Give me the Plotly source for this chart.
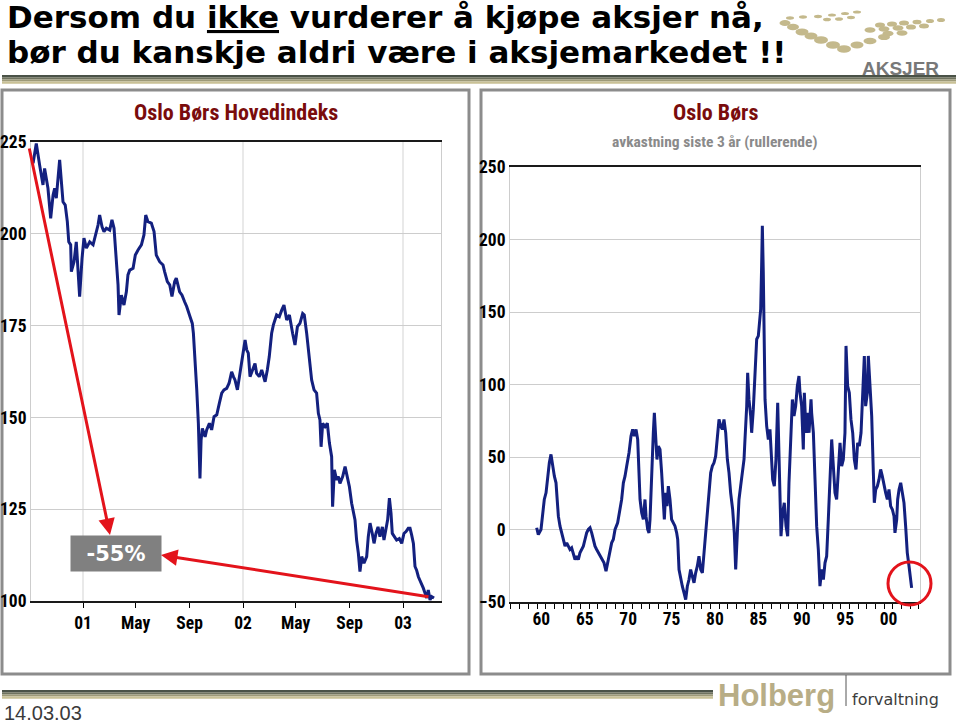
import plotly.graph_objects as go

W, H = 959, 723


def px(x):
    return x / W


def py(y):
    return 1 - y / H


# ---------------- data: Oslo Børs Hovedindeks (left chart) ----------------
left_x = [
    2000.688, 2000.708, 2000.729, 2000.750, 2000.760, 2000.771, 2000.781, 2000.798, 2000.813, 2000.823,
    2000.833, 2000.854, 2000.864, 2000.875, 2000.889, 2000.902, 2000.911, 2000.923, 2000.927, 2000.944,
    2000.958, 2000.969, 2000.979, 2000.994, 2001.006, 2001.021, 2001.042, 2001.063, 2001.073, 2001.094,
    2001.104, 2001.119, 2001.131, 2001.146, 2001.167, 2001.181, 2001.194, 2001.202, 2001.211, 2001.219,
    2001.225, 2001.240, 2001.256, 2001.271, 2001.281, 2001.292, 2001.313, 2001.327, 2001.344, 2001.365,
    2001.381, 2001.392, 2001.406, 2001.427, 2001.444, 2001.458, 2001.479, 2001.500, 2001.510, 2001.527,
    2001.542, 2001.556, 2001.573, 2001.583, 2001.604, 2001.619, 2001.635, 2001.648, 2001.669, 2001.683,
    2001.690, 2001.700, 2001.711, 2001.721, 2001.727, 2001.731, 2001.738, 2001.746, 2001.763, 2001.773,
    2001.790, 2001.804, 2001.819, 2001.836, 2001.852, 2001.867, 2001.881, 2001.898, 2001.913, 2001.929,
    2001.940, 2001.950, 2001.965, 2001.975, 2001.988, 2001.998, 2002.013, 2002.023, 2002.033, 2002.044,
    2002.061, 2002.075, 2002.085, 2002.102, 2002.117, 2002.138, 2002.152, 2002.164, 2002.179, 2002.190,
    2002.210, 2002.227, 2002.242, 2002.256, 2002.273, 2002.290, 2002.310, 2002.325, 2002.340, 2002.356,
    2002.373, 2002.383, 2002.398, 2002.415, 2002.429, 2002.444, 2002.460, 2002.471, 2002.481, 2002.488,
    2002.498, 2002.513, 2002.527, 2002.540, 2002.554, 2002.560, 2002.571, 2002.585, 2002.596, 2002.606,
    2002.623, 2002.638, 2002.648, 2002.665, 2002.679, 2002.690, 2002.700, 2002.710, 2002.721, 2002.731,
    2002.742, 2002.756, 2002.773, 2002.783, 2002.794, 2002.808, 2002.819, 2002.831, 2002.844, 2002.856,
    2002.871, 2002.881, 2002.894, 2002.904, 2002.915, 2002.925, 2002.933, 2002.946, 2002.960, 2002.977,
    2002.992, 2003.006, 2003.019, 2003.033, 2003.044, 2003.054, 2003.065, 2003.075, 2003.085, 2003.096,
    2003.106, 2003.117, 2003.127, 2003.138, 2003.148, 2003.158, 2003.169, 2003.179, 2003.194,
]
left_y = [
    219.2, 224.6, 218.7, 213.3, 217.8, 215.1, 212.4, 204.2, 210.6, 212.4,
    209.7, 220.1, 215.1, 208.7, 207.8, 203.3, 197.8, 197.0, 189.7, 192.4,
    197.8, 190.6, 182.9, 193.3, 198.8, 196.1, 197.8, 197.0, 198.8, 202.4,
    205.1, 201.9, 200.6, 201.5, 201.0, 203.8, 201.5, 197.0, 190.6, 186.1,
    177.9, 183.3, 180.6, 184.2, 188.8, 190.1, 190.6, 194.2, 195.6, 197.0,
    199.7, 205.1, 203.3, 202.9, 200.6, 194.2, 192.4, 191.5, 189.7, 187.0,
    186.1, 182.9, 187.0, 187.9, 184.2, 183.3, 181.5, 180.2, 177.4, 175.6,
    172.9, 166.5, 157.5, 148.4, 139.3, 133.4, 143.8, 147.0, 144.7, 146.6,
    148.4, 146.6, 150.2, 150.7, 153.8, 156.6, 157.5, 157.9, 159.3, 162.4,
    161.1, 160.2, 157.5, 160.6, 163.8, 167.5, 171.1, 168.4, 167.5, 161.1,
    162.9, 164.7, 162.0, 161.1, 162.9, 159.7, 162.9, 166.5, 172.9, 175.2,
    177.9, 177.4, 179.2, 180.6, 176.5, 177.9, 172.9, 169.7, 174.7, 175.6,
    178.3, 177.9, 172.9, 166.5, 160.2, 157.5, 156.6, 151.1, 149.3, 142.0,
    148.4, 147.5, 148.4, 143.0, 139.3, 125.7, 135.7, 133.0, 133.9, 132.0,
    133.9, 136.6, 134.8, 131.1, 126.6, 123.9, 122.1, 116.6, 113.0, 108.0,
    112.1, 110.3, 112.1, 117.5, 121.2, 118.4, 115.7, 118.4, 120.2, 117.5,
    120.2, 116.6, 119.3, 122.1, 128.0, 123.9, 118.4, 117.5, 116.6, 117.0,
    115.7, 118.4, 118.9, 119.8, 119.8, 118.0, 115.7, 109.4, 108.4, 106.6,
    105.7, 104.4, 103.5, 102.1, 100.8, 103.0, 100.3, 101.2, 100.8,
]
left_tickvals = [2001.0, 2001.329, 2001.666, 2002.0, 2002.329, 2002.666, 2003.0]
left_ticktext = ["01", "May", "Sep", "02", "May", "Sep", "03"]
left_yticks = [100, 125, 150, 175, 200, 225]
left_year_grid = [2001.0, 2002.0, 2003.0]

# ---------------- data: Oslo Børs 3-year rolling return (right chart) ----------------
right_x = [
    1959.96, 1960.15, 1960.46, 1960.65, 1960.84, 1961.04, 1961.23, 1961.42, 1961.61, 1961.80,
    1962.00, 1962.19, 1962.34, 1962.46, 1962.65, 1962.84, 1963.03, 1963.23, 1963.42, 1963.61,
    1963.80, 1963.99, 1964.19, 1964.38, 1964.57, 1964.76, 1964.95, 1965.15, 1965.34, 1965.53,
    1965.72, 1965.91, 1966.11, 1966.30, 1966.49, 1966.68, 1966.87, 1967.07, 1967.26, 1967.45,
    1967.72, 1967.95, 1968.14, 1968.41, 1968.60, 1968.79, 1968.99, 1969.29, 1969.49, 1969.75,
    1969.95, 1970.14, 1970.33, 1970.60, 1970.83, 1971.02, 1971.21, 1971.41, 1971.60, 1971.75,
    1971.87, 1972.06, 1972.25, 1972.44, 1972.56, 1972.75, 1972.90, 1973.02, 1973.21, 1973.40,
    1973.52, 1973.67, 1973.82, 1973.98, 1974.17, 1974.36, 1974.55, 1974.67, 1974.82, 1974.98,
    1975.13, 1975.32, 1975.51, 1975.71, 1975.90, 1976.09, 1976.21, 1976.36, 1976.55, 1976.74,
    1976.94, 1977.13, 1977.32, 1977.51, 1977.70, 1977.90, 1978.09, 1978.28, 1978.47, 1978.66,
    1978.86, 1979.05, 1979.24, 1979.43, 1979.62, 1979.82, 1980.01, 1980.20, 1980.39, 1980.58,
    1980.78, 1980.97, 1981.16, 1981.35, 1981.54, 1981.74, 1981.93, 1982.12, 1982.31, 1982.54,
    1982.73, 1982.89, 1983.08, 1983.27, 1983.46, 1983.66, 1983.85, 1983.96, 1984.16, 1984.27,
    1984.42, 1984.62, 1984.73, 1984.92, 1985.12, 1985.31, 1985.50, 1985.61, 1985.77, 1985.88,
    1985.96, 1986.07, 1986.15, 1986.27, 1986.46, 1986.65, 1986.84, 1987.04, 1987.15, 1987.34,
    1987.53, 1987.73, 1987.84, 1987.96, 1988.11, 1988.30, 1988.49, 1988.69, 1988.88, 1989.03,
    1989.22, 1989.42, 1989.61, 1989.80, 1989.99, 1990.18, 1990.30, 1990.49, 1990.68, 1990.80,
    1990.99, 1991.18, 1991.34, 1991.45, 1991.57, 1991.64, 1991.84, 1992.03, 1992.22, 1992.41,
    1992.60, 1992.80, 1992.99, 1993.18, 1993.37, 1993.56, 1993.76, 1993.95, 1994.14, 1994.33,
    1994.52, 1994.72, 1994.91, 1995.10, 1995.29, 1995.48, 1995.60, 1995.79, 1995.98, 1996.17,
    1996.37, 1996.56, 1996.75, 1996.94, 1997.13, 1997.33, 1997.52, 1997.71, 1997.86, 1998.06,
    1998.17, 1998.36, 1998.56, 1998.75, 1998.86, 1999.02, 1999.21, 1999.40, 1999.59, 1999.78,
    1999.98, 2000.17, 2000.36, 2000.55, 2000.74, 2000.94, 2001.13, 2001.24, 2001.44, 2001.55,
    2001.71, 2001.90, 2002.09, 2002.28, 2002.47, 2002.66, 2002.86, 2003.01, 2003.16,
]
right_y = [
    1.2, -3.5, 0.0, 9.2, 20.7, 25.3, 36.8, 46.0, 51.8, 43.7,
    36.8, 32.2, 20.7, 9.2, 2.3, -2.3, -6.9, -11.5, -9.2, -11.5,
    -13.8, -12.7, -16.1, -20.7, -18.4, -20.7, -16.1, -13.8, -11.5, -6.9,
    -2.3, 0.0, 1.2, -2.3, -6.9, -11.5, -13.8, -16.1, -18.4, -20.7,
    -23.0, -28.8, -23.0, -16.1, -9.2, -6.9, 0.0, 4.6, 11.5, 20.7,
    32.2, 36.8, 43.7, 52.9, 64.4, 69.0, 64.4, 69.0, 62.1, 43.7,
    20.7, 11.5, 6.9, 20.7, 9.2, 0.0, -2.3, 6.9, 43.7, 66.7,
    80.5, 66.7, 48.3, 57.5, 55.2, 39.1, 20.7, 6.9, 25.3, 16.1,
    29.9, 20.7, 6.9, 4.6, 2.3, -2.3, -6.9, -27.6, -34.5, -39.1,
    -43.7, -48.3, -39.1, -34.5, -27.6, -32.2, -36.8, -29.9, -25.3, -18.4,
    -27.6, -29.9, -16.1, -6.9, 9.2, 25.3, 39.1, 43.7, 46.0, 50.6,
    66.7, 75.9, 71.3, 69.0, 75.9, 66.7, 48.3, 39.1, 25.3, 13.8,
    -2.3, -27.6, -2.3, 20.7, 29.9, 39.1, 48.3, 62.1, 85.1, 108.1,
    89.7, 78.2, 66.7, 82.8, 112.7, 131.2, 133.5, 140.4, 151.9, 181.8,
    209.4, 177.2, 135.8, 89.7, 71.3, 62.1, 69.0, 48.3, 34.5, 29.9,
    48.3, 87.4, 62.1, 20.7, -4.6, 11.5, 18.4, 2.3, -4.6, 32.2,
    66.7, 89.7, 78.2, 85.1, 98.9, 105.8, 94.3, 85.1, 55.2, 94.3,
    66.7, 80.5, 66.7, 82.8, 89.7, 80.5, 66.7, 34.5, 2.3, -13.8,
    -39.1, -27.6, -34.5, -23.0, -18.4, 6.9, 39.1, 62.1, 43.7, 25.3,
    20.7, 39.1, 59.8, 43.7, 48.3, 66.7, 126.6, 98.9, 94.3, 75.9,
    66.7, 48.3, 41.4, 59.8, 57.5, 66.7, 94.3, 119.7, 85.1, 94.3,
    119.7, 98.9, 78.2, 39.1, 18.4, 27.6, 29.9, 34.5, 41.4, 36.8,
    29.9, 25.3, 20.7, 27.6, 16.1, 13.8, 9.2, -2.3, 6.9, 20.7,
    27.6, 32.2, 25.3, 18.4, 2.3, -16.1, -25.3, -34.5, -40.3,
]
right_tickvals = [1960.5, 1965.5, 1970.5, 1975.5, 1980.5, 1985.5, 1990.5, 1995.5, 2000.5]
right_ticktext = ["60", "65", "70", "75", "80", "85", "90", "95", "00"]
right_yticks = [-50, 0, 50, 100, 150, 200, 250]

# ---------------- styles ----------------
NAVY = "#13207f"
NARROW = "Roboto Condensed, Liberation Sans Narrow, DejaVu Sans Condensed, sans-serif"
WIDE = "DejaVu Sans, Verdana, sans-serif"
ARIAL = "Liberation Sans, Arial, sans-serif"
GRID = "#cdcdcd"
tickfont = dict(family=NARROW, size=17.5, color="#000000", weight="bold")

fig = go.Figure()
fig.add_trace(go.Scatter(x=left_x, y=left_y, mode="lines", line=dict(color=NAVY, width=3),
                         xaxis="x", yaxis="y", hoverinfo="skip", showlegend=False))
fig.add_trace(go.Scatter(x=right_x, y=right_y, mode="lines", line=dict(color=NAVY, width=3),
                         xaxis="x2", yaxis="y2", hoverinfo="skip", showlegend=False))

L_DOM_X = [px(31), px(441)]
L_DOM_Y = [py(601), py(142)]
R_DOM_X = [px(510), px(920)]
R_DOM_Y = [py(602), py(167)]

fig.update_layout(
    width=W, height=H, margin=dict(l=0, r=0, t=0, b=0, autoexpand=False), autosize=False,
    paper_bgcolor="white", plot_bgcolor="white", showlegend=False,
    xaxis=dict(domain=L_DOM_X, anchor="y", range=[2000.675, 2003.2375],
               tickmode="array", tickvals=left_tickvals, ticktext=left_ticktext,
               ticks="outside", ticklen=5, tickcolor="#000", showgrid=False, zeroline=False,
               showline=True, mirror=True, linecolor="#1a1a1a", linewidth=1.5, tickfont=tickfont),
    yaxis=dict(domain=L_DOM_Y, anchor="x", range=[100, 225], tickmode="array",
               tickvals=left_yticks, showgrid=True, gridcolor=GRID, gridwidth=1.3, zeroline=False,
               showline=True, mirror=True, linecolor=GRID, ticks="", tickfont=tickfont),
    yaxis3=dict(overlaying="y", side="right", anchor="x", range=[100, 225], tickmode="array",
                tickvals=left_yticks, showgrid=False, zeroline=False, showline=False, ticks="",
                tickfont=tickfont),
    xaxis2=dict(domain=R_DOM_X, anchor="y2", range=[1956.889, 2004.124],
                tickmode="array", tickvals=right_tickvals, ticktext=right_ticktext, ticks="",
                minor=dict(tickmode="linear", tick0=1960, dtick=1, ticks="outside", ticklen=5,
                           tickcolor="#000", showgrid=False),
                showgrid=False, zeroline=False, showline=True, mirror=True, linecolor="#1a1a1a",
                linewidth=1.5, tickfont=tickfont),
    yaxis2=dict(domain=R_DOM_Y, anchor="x2", range=[-50, 250], tickmode="array",
                tickvals=right_yticks, showgrid=True, gridcolor=GRID, gridwidth=1.3, zeroline=False,
                showline=True, mirror=True, linecolor=GRID, ticks="", tickfont=tickfont),
    yaxis4=dict(overlaying="y2", side="right", anchor="x2", range=[-50, 250], tickmode="array",
                tickvals=right_yticks, showgrid=False, zeroline=False, showline=False, ticks="",
                tickfont=tickfont),
)

shapes = []
# vertical year grid lines in left chart
for gx in left_year_grid:
    shapes.append(dict(type="line", xref="x", yref="y domain", x0=gx, x1=gx, y0=0, y1=1,
                       line=dict(color="#dedede", width=1.3), layer="below"))
# panel frames
for x0, x1 in [(2, 469), (481, 950)]:
    shapes.append(dict(type="rect", xref="paper", yref="paper", x0=px(x0), x1=px(x1),
                       y0=py(674), y1=py(90), line=dict(color="#8c8c8c", width=3),
                       fillcolor="rgba(0,0,0,0)", layer="below"))
# gradient band under headline
band_cols = ["#4a5247", "#6f735f", "#9d9a78", "#c9c196"]
for i, c in enumerate(band_cols):
    shapes.append(dict(type="rect", xref="paper", yref="paper", x0=px(2), x1=px(956),
                       y0=py(75 + 2.2 * i), y1=py(77.2 + 2.2 * i), line=dict(width=0), fillcolor=c,
                       layer="below"))
# gradient band at bottom
for i, c in enumerate(band_cols):
    shapes.append(dict(type="rect", xref="paper", yref="paper", x0=px(2), x1=px(713),
                       y0=py(690 + 2.2 * i), y1=py(692.2 + 2.2 * i), line=dict(width=0), fillcolor=c,
                       layer="below"))
# logo separator line
shapes.append(dict(type="line", xref="paper", yref="paper", x0=px(846), x1=px(846),
                   y0=py(675), y1=py(706), line=dict(color="#555555", width=1)))
# AKSJER logo dots (decoration)
dots = [(785, 23, 5.5, 3), (793, 27, 6, 3.2), (802, 32, 6.5, 3.4), (811, 36, 6.5, 3.5),
        (821, 40, 7, 3.8), (833, 45, 7, 3.8), (844, 49, 7, 3.8), (857, 45, 6.5, 3.4),
        (870, 41, 6.5, 3.3), (884, 37, 6, 3.1), (880, 25, 5, 2.6), (892, 24, 5, 2.6),
        (904, 23, 5, 2.5), (917, 22, 4.5, 2.3), (930, 21, 4, 2.1), (941, 20, 4, 2),
        (870, 30, 5.5, 2.8), (884, 29, 5.5, 2.8), (898, 28, 5.5, 2.8), (911, 27, 5, 2.6), (924, 26, 5, 2.5),
        (888, 33.5, 5.5, 2.8), (902, 33, 5.5, 2.8), (790, 18, 4, 1.7), (803, 17, 4, 1.7), (818, 16.5, 4, 1.7),
        (832, 15, 4, 1.6), (845, 13.5, 4, 1.6), (857, 12, 4, 1.5), (827, 19.5, 4, 1.8), (839, 19, 4, 1.8),
        (851, 17.5, 4, 1.7)]
for cx, cy, rx, ry in dots:
    shapes.append(dict(type="circle", xref="paper", yref="paper", x0=px(cx - rx), x1=px(cx + rx),
                       y0=py(cy + ry), y1=py(cy - ry), line=dict(width=0), fillcolor="#c4b98c"))
# red circle around latest value
shapes.append(dict(type="circle", xref="paper", yref="paper", x0=px(888), x1=px(931),
                   y0=py(605), y1=py(562), line=dict(color="#e3131b", width=3)))
fig.update_layout(shapes=shapes)

ann = []
ann.append(dict(text="<b>Dersom du <u>ikke</u> vurderer å kjøpe aksjer nå,</b>", x=px(5), y=py(17),
                xanchor="left", yanchor="middle", font=dict(family=WIDE, size=31, color="#000")))
ann.append(dict(text="<b>bør du kanskje aldri være i aksjemarkedet !!</b>", x=px(5), y=py(52),
                xanchor="left", yanchor="middle", font=dict(family=WIDE, size=31, color="#000")))
ann.append(dict(text="<b>AKSJER</b>", x=px(900), y=py(68), xanchor="center", yanchor="middle",
                font=dict(family=ARIAL, size=19, color="#787878")))
ann.append(dict(text="<b>Oslo Børs Hovedindeks</b>", x=px(236), y=py(112), xanchor="center",
                yanchor="middle", font=dict(family=NARROW, size=22, color="#7a0c0c")))
ann.append(dict(text="<b>Oslo Børs</b>", x=px(715), y=py(112), xanchor="center",
                yanchor="middle", font=dict(family=NARROW, size=22, color="#7a0c0c")))
ann.append(dict(text="<b>avkastning siste 3 år (rullerende)</b>", x=px(714), y=py(142),
                xanchor="center", yanchor="middle", font=dict(family=NARROW, size=15.5, color="#8a8a8a")))
ann.append(dict(text="<b>-55%</b>", x=px(116), y=py(553.5), xanchor="center", yanchor="middle",
                width=90, height=35, bgcolor="#808080", borderpad=0,
                font=dict(family=WIDE, size=21, color="#ffffff")))
# arrows
ann.append(dict(text="", x=px(110), y=py(535), showarrow=True, ax=29 - 110, ay=147 - 535,
                arrowcolor="#e3131b", arrowwidth=3, arrowhead=2, arrowsize=1.1, standoff=0))
ann.append(dict(text="", x=px(161), y=py(555), showarrow=True, ax=430 - 161, ay=597 - 555,
                arrowcolor="#e3131b", arrowwidth=3, arrowhead=2, arrowsize=1.1, standoff=0))
# footer
ann.append(dict(text="<b>Holberg</b>", x=px(716), y=py(695), xanchor="left", yanchor="middle",
                font=dict(family=ARIAL, size=31, color="#b8ad86")))
ann.append(dict(text="forvaltning", x=px(850), y=py(699), xanchor="left", yanchor="middle",
                font=dict(family=WIDE, size=16, color="#3d3d3d")))
ann.append(dict(text="14.03.03", x=px(2), y=py(713), xanchor="left", yanchor="middle",
                font=dict(family=ARIAL, size=20, color="#3a3a3a")))
for a in ann:
    a.setdefault("xref", "paper")
    a.setdefault("yref", "paper")
    a.setdefault("showarrow", False)
fig.update_layout(annotations=ann)

fig.write_html(
    "out.html",
    config={"displayModeBar": False, "responsive": False},
    post_script=("document.body.style.margin='0';document.body.style.padding='0';"
                 "document.documentElement.style.overflow='hidden';"),
)
